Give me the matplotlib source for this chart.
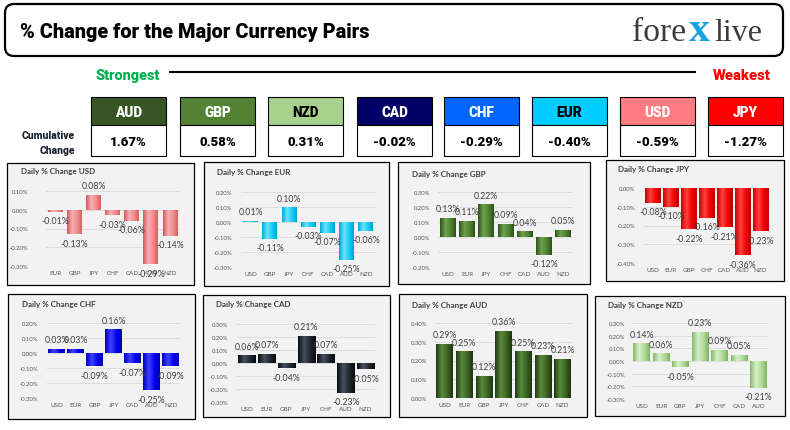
import numpy as np
import matplotlib
matplotlib.use('Agg')
import matplotlib.pyplot as plt
from matplotlib.patches import Rectangle, FancyBboxPatch
from matplotlib.colors import LinearSegmentedColormap

## data
ranked = ['AUD', 'GBP', 'NZD', 'CAD', 'CHF', 'EUR', 'USD', 'JPY']
cumulative = [1.67, 0.58, 0.31, -0.02, -0.29, -0.40, -0.59, -1.27]

usd_cats = ['EUR', 'GBP', 'JPY', 'CHF', 'CAD', 'AUD', 'NZD']
usd_vals = [-0.01, -0.13, 0.08, -0.03, -0.06, -0.29, -0.14]
eur_cats = ['USD', 'GBP', 'JPY', 'CHF', 'CAD', 'AUD', 'NZD']
eur_vals = [0.01, -0.11, 0.10, -0.03, -0.07, -0.25, -0.06]
gbp_cats = ['USD', 'EUR', 'JPY', 'CHF', 'CAD', 'AUD', 'NZD']
gbp_vals = [0.13, 0.11, 0.22, 0.09, 0.04, -0.12, 0.05]
jpy_cats = ['USD', 'EUR', 'GBP', 'CHF', 'CAD', 'AUD', 'NZD']
jpy_vals = [-0.08, -0.10, -0.22, -0.16, -0.21, -0.36, -0.23]
chf_cats = ['USD', 'EUR', 'GBP', 'JPY', 'CAD', 'AUD', 'NZD']
chf_vals = [0.03, 0.03, -0.09, 0.16, -0.07, -0.25, -0.09]
cad_cats = ['USD', 'EUR', 'GBP', 'JPY', 'CHF', 'AUD', 'NZD']
cad_vals = [0.06, 0.07, -0.04, 0.21, 0.07, -0.23, -0.05]
aud_cats = ['USD', 'EUR', 'GBP', 'JPY', 'CHF', 'CAD', 'NZD']
aud_vals = [0.29, 0.25, 0.12, 0.36, 0.25, 0.23, 0.21]
nzd_cats = ['USD', 'EUR', 'GBP', 'JPY', 'CHF', 'CAD', 'AUD']
nzd_vals = [0.14, 0.06, -0.05, 0.23, 0.09, 0.05, -0.21]

## style
head_colors = {'AUD': '#375623', 'GBP': '#548235', 'NZD': '#a9d18e', 'CAD': '#000066',
               'CHF': '#0066ff', 'EUR': '#00ccff', 'USD': '#ff7c80', 'JPY': '#ff0000'}
head_text = {'NZD': 'black', 'EUR': 'black'}
box_x = [91, 180, 268, 357, 444, 532, 620, 708]

# name, cats, vals, ylim, panel box, plot box, title pos, ticklabel right edge, bar width, gradient
panels = [
    ('USD', usd_cats, usd_vals, (-0.3, 0.1), (7, 194, 164, 286), (46, 179.5, 192, 267), (21, 172), 28, 0.78,
     ['#d05a5d', '#f7b0b1', '#f08a8c', '#d8605f']),
    ('EUR', eur_cats, eur_vals, (-0.3, 0.2), (204, 389, 163, 287), (241, 375.6, 193, 268), (217, 173), 232, 0.78,
     ['#00a8d8', '#6ae4ff', '#10cdf5', '#00a0d0']),
    ('GBP', gbp_cats, gbp_vals, (-0.2, 0.3), (398, 590, 163, 285), (438.4, 572.6, 193, 268), (412, 175), 430, 0.83,
     ['#2e5518', '#6fa24e', '#4e8130', '#2c5016']),
    ('JPY', jpy_cats, jpy_vals, (-0.4, 0.0), (606, 784, 161, 282), (644, 769.5, 189, 264), (618, 170), 635, 0.88,
     ['#c80000', '#ff4040', '#f40000', '#c00000']),
    ('CHF', chf_cats, chf_vals, (-0.3, 0.2), (8, 195, 295, 420), (47.2, 180.2, 324, 399), (22, 305), 38, 0.87,
     ['#0000b8', '#4040ff', '#0000f0', '#0000b0']),
    ('CAD', cad_cats, cad_vals, (-0.3, 0.3), (203, 390, 296, 418), (237, 375.4, 325, 403), (216, 305), 228, 0.88,
     ['#0a0c14', '#46505e', '#20262f', '#08090e']),
    ('AUD', aud_cats, aud_vals, (0.0, 0.4), (399, 587, 295, 418), (435, 572.3, 324, 399), (412, 306), 427, 0.85,
     ['#203a12', '#5a8a3c', '#3a6322', '#1e3510']),
    ('NZD', nzd_cats, nzd_vals, (-0.3, 0.3), (595, 785, 297, 417), (631.75, 768.25, 324, 400), (608, 306), 625, 0.86,
     ['#86b86a', '#d6f0c8', '#b0da98', '#80b262']),
]

W, H = 790, 431
fig = plt.figure(figsize=(7.9, 4.31), dpi=100)
bg = fig.add_axes([0, 0, 1, 1])
bg.set_xlim(0, W)
bg.set_ylim(H, 0)
bg.axis('off')

NARROW = ['Roboto', 'DejaVu Sans']
SERIF = ['Liberation Serif', 'DejaVu Serif']
renderer = fig.canvas.get_renderer()


def fit(t, width_px):
    bb = t.get_window_extent(renderer=renderer)
    t.set_fontsize(t.get_fontsize() * width_px / bb.width)
    return t.get_fontsize()


# header
bg.add_patch(FancyBboxPatch((5, 5), 778, 52, boxstyle='round,pad=0,rounding_size=9',
                            fc='white', ec='black', lw=1.6))
t = bg.text(20, 32, '% Change for the Major Currency Pairs', family=NARROW, weight='black',
            fontsize=15, va='center', ha='left', color='black')
fit(t, 348)

t = bg.text(632, 41, 'fore', family=SERIF, fontsize=20, va='baseline', ha='left', color='#3c3c3c')
lfs = fit(t, 54)
bg.text(699, 41, 'x', family=SERIF, fontsize=lfs * 1.25, va='baseline', ha='center',
        color='#1ba1e2', weight='bold')
t = bg.text(714, 41, 'live', family=SERIF, fontsize=lfs, va='baseline', ha='left', color='#3c3c3c')
fit(t, 48)

t = bg.text(96, 76, 'Strongest', family=NARROW, weight='black', color='#00b050',
            fontsize=11, va='center', ha='left')
fit(t, 64)
t = bg.text(771, 76, 'Weakest', family=NARROW, weight='black', color='#ff0000',
            fontsize=11, va='center', ha='right')
fit(t, 58)
bg.plot([170, 695], [73, 73], color='black', lw=1.5)

t = bg.text(75, 136, 'Cumulative', family=NARROW, weight='black', fontsize=8,
            ha='right', va='center', color='#1c2433')
cfs = fit(t, 53)
bg.text(75, 151, 'Change', family=NARROW, weight='black', fontsize=cfs,
        ha='right', va='center', color='#1c2433')

probe = bg.text(0, -50, 'AUD', family=NARROW, weight='black', fontsize=10)
hfs = fit(probe, 27)
probe2 = bg.text(0, -50, '1.67%', family=NARROW, weight='black', fontsize=10)
vfs = fit(probe2, 37)
probe.remove()
probe2.remove()

for cur, val, x in zip(ranked, cumulative, box_x):
    bg.add_patch(Rectangle((x, 98), 75, 28, fc=head_colors[cur], ec='black', lw=0.8))
    bg.add_patch(Rectangle((x, 126), 75, 31, fc='white', ec='black', lw=0.8))
    bg.text(x + 37.5, 113, cur, family=NARROW, weight='black', fontsize=hfs,
            ha='center', va='center', color=head_text.get(cur, 'white'))
    bg.text(x + 37.5, 143, f'{val:.2f}%', family=NARROW, weight='black', fontsize=vfs,
            ha='center', va='center', color='black')

# daily panels
grad = np.linspace(0, 1, 64).reshape(1, -1)
for name, cats, vals, (lo, hi), pbox, abox, tpos, tick_r, bw, gcols in panels:
    px0, px1, py0, py1 = pbox
    bg.add_patch(Rectangle((px0, py0), px1 - px0, py1 - py0, fc='#f2f2f2', ec='black', lw=0.9))
    bg.text(tpos[0], tpos[1], f'Daily % Change {name}', family=['Lato', 'DejaVu Sans'],
            weight='bold', fontsize=5.8, color='#404040', ha='left', va='center')

    ax0, ax1, ay0, ay1 = abox
    ax = fig.add_axes([ax0 / W, 1 - ay1 / H, (ax1 - ax0) / W, (ay1 - ay0) / H])
    ax.set_facecolor('none')
    cmap = LinearSegmentedColormap.from_list(name, list(zip([0, 0.35, 0.7, 1], gcols)))
    xs = np.arange(len(cats))
    bars = ax.bar(xs, vals, bw, color='none', edgecolor='none', zorder=2)
    for b in bars:
        x0, y0, w, h = b.get_x(), b.get_y(), b.get_width(), b.get_height()
        im = ax.imshow(grad, cmap=cmap, aspect='auto', extent=(x0, x0 + w, y0, y0 + h),
                       zorder=2, interpolation='bilinear')
        im.set_clip_path(b)
    for x, v in zip(xs, vals):
        ax.annotate(f'{v:.2f}%', (x, v), xytext=(0, 3.2 if v >= 0 else -3.2),
                    textcoords='offset points', ha='center',
                    va='bottom' if v >= 0 else 'top', fontsize=6.3,
                    family=['Lato', 'DejaVu Sans'], color='#404040', zorder=4)
    ax.set_xlim(-0.5, len(cats) - 0.5)
    ax.set_ylim(lo, hi)
    ticks = np.round(np.arange(lo, hi + 0.001, 0.1), 2)
    ax.set_yticks(ticks)
    ax.set_yticklabels([f'{t + 0:.2f}%' for t in ticks])
    ax.set_xticks(xs)
    ax.set_xticklabels(cats)
    ax.tick_params(axis='y', length=0, pad=(ax0 - tick_r) * 0.72, labelsize=4.3, labelcolor='#595959')
    ax.tick_params(axis='x', length=0, pad=3, labelsize=4.5, labelcolor='#595959')
    for lab in ax.get_xticklabels() + ax.get_yticklabels():
        lab.set_family(['Lato', 'DejaVu Sans'])
    ax.grid(axis='y', color='#d9d9d9', lw=0.6, zorder=0)
    ax.set_axisbelow(True)
    for s in ax.spines.values():
        s.set_visible(False)

fig.savefig('out.png', dpi=100)
